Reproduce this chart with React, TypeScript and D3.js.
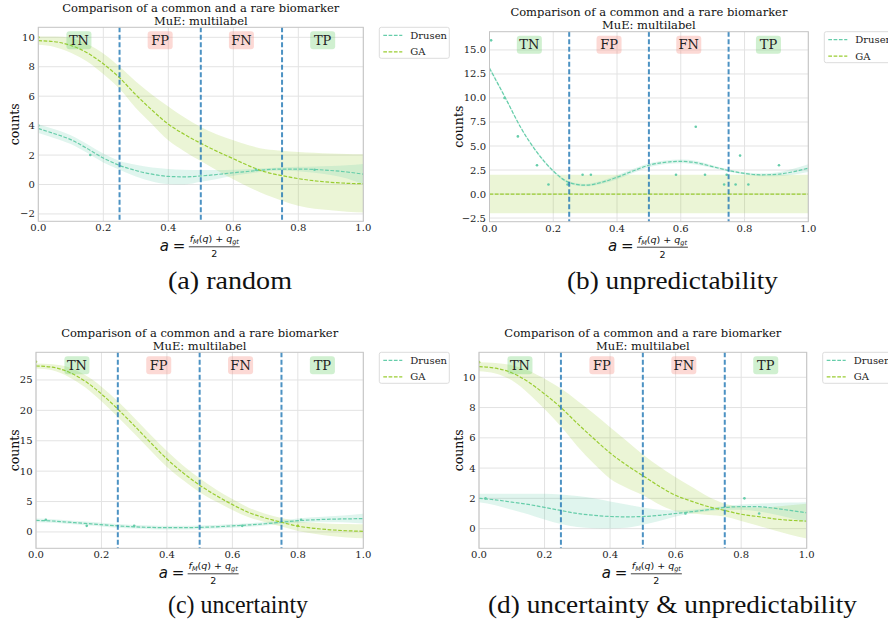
import React from 'react';
import * as d3 from 'd3';

// ---------- shared categories ----------
const X_GRID = [0, 0.05, 0.1, 0.15, 0.2, 0.25, 0.3, 0.35, 0.4, 0.45, 0.5, 0.55, 0.6, 0.65, 0.7, 0.75, 0.8, 0.85, 0.9, 0.95, 1.0];
const X_TICKS = [0, 0.2, 0.4, 0.6, 0.8, 1.0];
const THRESHOLDS = [0.25, 0.5, 0.75];
const PHASE_LABELS = ['TN', 'FP', 'FN', 'TP'];
const PHASE_CENTERS = [0.125, 0.375, 0.625, 0.875];
const PHASE_OK = [true, false, false, true];
const SERIES_NAMES = ['Drusen', 'GA'];
const TITLE_1 = 'Comparison of a common and a rare biomarker';
const TITLE_2 = 'MuE: multilabel';
const Y_LABEL = 'counts';
const CAPTIONS = ['(a) random', '(b) unpredictability', '(c) uncertainty', '(d) uncertainty & unpredictability'];

// ---------- (a) random ----------
const A_Y_TICKS = [-2, 0, 2, 4, 6, 8, 10];
const A_GA_MEAN = [9.77, 9.7, 9.45, 8.95, 8.2, 7.25, 6.1, 5.05, 4.1, 3.4, 2.8, 2.25, 1.75, 1.25, 0.85, 0.6, 0.4, 0.25, 0.15, 0.08, 0.05];
const A_GA_UP = [10.05, 10.05, 9.95, 9.55, 8.9, 8.0, 7.0, 6.1, 5.3, 4.55, 3.9, 3.4, 3.0, 2.65, 2.4, 2.3, 2.2, 2.15, 2.1, 2.07, 2.05];
const A_GA_LO = [9.5, 9.35, 8.95, 8.35, 7.5, 6.5, 5.2, 4.1, 3.0, 2.25, 1.6, 0.95, 0.35, -0.2, -0.7, -1.1, -1.45, -1.65, -1.75, -1.85, -1.9];
const A_DR_MEAN = [3.8, 3.45, 3.05, 2.45, 1.8, 1.3, 0.95, 0.7, 0.55, 0.52, 0.58, 0.68, 0.8, 0.9, 1.0, 1.05, 1.05, 1.02, 0.95, 0.85, 0.7];
const A_DR_UP = [4.1, 3.75, 3.35, 2.75, 2.1, 1.6, 1.35, 1.15, 1.05, 1.0, 0.98, 0.98, 1.0, 1.05, 1.1, 1.15, 1.2, 1.22, 1.25, 1.3, 1.4];
const A_DR_LO = [3.5, 3.15, 2.75, 2.15, 1.5, 1.0, 0.55, 0.2, 0.02, 0.0, 0.18, 0.38, 0.6, 0.75, 0.9, 0.95, 0.9, 0.8, 0.65, 0.4, 0.0];
const A_DR_PX = [0.0, 0.16, 0.67, 0.85];
const A_DR_PY = [4, 2, 1, 1];
const A_GA_PX = [0.0];
const A_GA_PY = [10];

// ---------- (b) unpredictability ----------
const B_Y_TICKS = [-2.5, 0, 2.5, 5, 7.5, 10, 12.5, 15];
const B_GA_MEAN = [0, 0, 0, 0, 0, 0, 0, 0, 0, 0, 0, 0, 0, 0, 0, 0, 0, 0, 0, 0, 0];
const B_GA_UP = [2, 2, 2, 2, 2, 2, 2, 2, 2, 2, 2, 2, 2, 2, 2, 2, 2, 2, 2, 2, 2];
const B_GA_LO = [-2, -2, -2, -2, -2, -2, -2, -2, -2, -2, -2, -2, -2, -2, -2, -2, -2, -2, -2, -2, -2];
const B_DR_MEAN = [13.1, 10.0, 6.8, 4.3, 2.4, 1.2, 0.92, 1.2, 1.75, 2.4, 3.0, 3.3, 3.4, 3.25, 2.85, 2.45, 2.15, 2.0, 2.05, 2.3, 2.7];
const B_DR_UP = [13.3, 10.15, 6.92, 4.42, 2.52, 1.32, 1.04, 1.35, 1.95, 2.6, 3.2, 3.5, 3.6, 3.45, 3.0, 2.57, 2.27, 2.15, 2.25, 2.6, 3.1];
const B_DR_LO = [12.9, 9.85, 6.68, 4.18, 2.28, 1.08, 0.8, 1.05, 1.55, 2.2, 2.8, 3.1, 3.2, 3.05, 2.7, 2.33, 2.03, 1.85, 1.85, 2.0, 2.3];
const B_DR_PX = [0.005, 0.047, 0.089, 0.149, 0.185, 0.245, 0.292, 0.318, 0.585, 0.647, 0.676, 0.736, 0.744, 0.772, 0.786, 0.812, 0.908];
const B_DR_PY = [16, 10, 6, 3, 1, 1, 2, 2, 2, 7, 2, 1, 2, 1, 4, 1, 3];
const B_GA_PX: number[] = [];
const B_GA_PY: number[] = [];

// ---------- (c) uncertainty ----------
const C_Y_TICKS = [0, 5, 10, 15, 20, 25];
const C_GA_MEAN = [27.3, 27.1, 26.3, 24.8, 22.7, 20.2, 17.5, 14.7, 12.0, 9.7, 7.7, 6.0, 4.5, 3.2, 2.3, 1.6, 0.95, 0.6, 0.35, 0.2, 0.1];
const C_GA_UP = [27.7, 27.6, 27.1, 25.8, 23.9, 21.5, 18.8, 16.0, 13.3, 10.9, 8.85, 7.0, 5.4, 4.0, 3.0, 2.3, 1.75, 1.5, 1.35, 1.3, 1.25];
const C_GA_LO = [26.9, 26.6, 25.5, 23.8, 21.5, 18.9, 16.2, 13.4, 10.7, 8.5, 6.55, 5.0, 3.6, 2.4, 1.6, 0.9, 0.15, -0.3, -0.65, -0.9, -1.05];
const C_DR_MEAN = [1.9, 1.8, 1.6, 1.4, 1.2, 1.0, 0.85, 0.75, 0.7, 0.7, 0.75, 0.85, 1.0, 1.15, 1.35, 1.6, 1.85, 2.0, 2.1, 2.15, 2.2];
const C_DR_UP = [2.2, 2.1, 1.9, 1.7, 1.5, 1.3, 1.15, 1.05, 1.0, 1.0, 1.05, 1.15, 1.3, 1.45, 1.65, 1.9, 2.2, 2.4, 2.6, 2.75, 3.0];
const C_DR_LO = [1.6, 1.5, 1.3, 1.1, 0.9, 0.7, 0.55, 0.45, 0.4, 0.4, 0.45, 0.55, 0.7, 0.85, 1.05, 1.3, 1.5, 1.6, 1.6, 1.55, 1.4];
const C_DR_PX = [0.03, 0.155, 0.3, 0.63, 0.81];
const C_DR_PY = [2, 1, 1, 1, 2];
const C_GA_PX = [0.0, 0.8];
const C_GA_PY = [28, 1];

// ---------- (d) uncertainty & unpredictability ----------
const D_Y_TICKS = [0, 2, 4, 6, 8, 10];
const D_GA_MEAN = [10.7, 10.6, 10.3, 9.7, 8.9, 8.0, 6.95, 5.95, 5.0, 4.2, 3.5, 2.8, 2.2, 1.8, 1.45, 1.2, 0.95, 0.8, 0.65, 0.55, 0.5];
const D_GA_UP = [11.0, 10.95, 10.8, 10.45, 9.9, 9.25, 8.45, 7.6, 6.7, 5.8, 4.9, 4.1, 3.4, 2.75, 2.1, 1.65, 1.45, 1.4, 1.45, 1.55, 1.65];
const D_GA_LO = [10.4, 10.25, 9.8, 8.95, 7.9, 6.75, 5.45, 4.3, 3.3, 2.7, 2.2, 1.6, 1.15, 1.0, 0.9, 0.8, 0.5, 0.2, -0.1, -0.4, -0.65];
const D_DR_MEAN = [2.0, 1.9, 1.75, 1.6, 1.4, 1.2, 1.0, 0.88, 0.8, 0.78, 0.8, 0.88, 1.0, 1.12, 1.25, 1.4, 1.45, 1.45, 1.35, 1.2, 1.05];
const D_DR_UP = [2.3, 2.3, 2.3, 2.3, 2.3, 2.25, 2.15, 2.0, 1.8, 1.6, 1.4, 1.25, 1.2, 1.25, 1.35, 1.5, 1.6, 1.65, 1.7, 1.72, 1.75];
const D_DR_LO = [1.75, 1.55, 1.25, 0.95, 0.6, 0.3, 0.1, 0.02, 0.0, 0.05, 0.25, 0.5, 0.8, 1.0, 1.15, 1.25, 1.25, 1.15, 0.95, 0.7, 0.4];
const D_DR_PX = [0.02, 0.63, 0.81, 0.855];
const D_DR_PY = [2, 1, 2, 1];
const D_GA_PX = [0.0];
const D_GA_PY = [11];

// ---------- styling ----------
const DR_COLOR = '#66cdaa';
const GA_COLOR = '#9acd32';
const THR_COLOR = '#1f77b4';
const SERIF = '"DejaVu Serif", serif';
const SANS = '"DejaVu Sans", sans-serif';

const fmtMinus = (s: string) => s.replace('-', '\u2212');

type Box = { l: number; t: number; r: number; b: number };

function Panel(props: {
  id: string;
  box: Box;
  yDomain: [number, number];
  yTicks: number[];
  yFmt: string;
  yLabelOff: number;
  dr: [number[], number[], number[]];
  ga: [number[], number[], number[]];
  drPts: [number[], number[]];
  gaPts: [number[], number[]];
}) {
  const { id, box, yDomain, yTicks, yFmt, yLabelOff, dr, ga, drPts, gaPts } = props;
  const x = d3.scaleLinear().domain([0, 1]).range([box.l, box.r]);
  const y = d3.scaleLinear().domain(yDomain).range([box.b, box.t]);
  const fy = d3.format(yFmt);
  const fx = d3.format('.1f');

  const band = (lo: number[], up: number[]) =>
    d3
      .area<number>()
      .x((_, i) => x(X_GRID[i]))
      .y0((_, i) => y(lo[i]))
      .y1((_, i) => y(up[i]))
      .curve(d3.curveMonotoneX)(X_GRID) || '';
  const line = (m: number[]) =>
    d3
      .line<number>()
      .x((_, i) => x(X_GRID[i]))
      .y((_, i) => y(m[i]))
      .curve(d3.curveMonotoneX)(X_GRID) || '';

  const cx = (box.l + box.r) / 2;
  const cy = (box.t + box.b) / 2;
  const clipId = 'clip-' + id;
  const legX = box.r + 16;
  const legY = box.t;

  return (
    <g>
      <defs>
        <clipPath id={clipId}>
          <rect x={box.l} y={box.t} width={box.r - box.l} height={box.b - box.t} />
        </clipPath>
      </defs>
      {X_TICKS.map((t) => (
        <line key={'gx' + t} x1={x(t)} x2={x(t)} y1={box.t} y2={box.b} stroke="#e3e3e3" strokeWidth={1} />
      ))}
      {yTicks.map((t) => (
        <line key={'gy' + t} x1={box.l} x2={box.r} y1={y(t)} y2={y(t)} stroke="#e3e3e3" strokeWidth={1} />
      ))}
      <g clipPath={`url(#${clipId})`}>
        <path d={band(ga[2], ga[1])} fill={GA_COLOR} fillOpacity={0.2} />
        <path d={band(dr[2], dr[1])} fill={DR_COLOR} fillOpacity={0.2} />
        <path d={line(dr[0])} fill="none" stroke={DR_COLOR} strokeWidth={1.2} strokeDasharray="3.7,1.6" />
        <path d={line(ga[0])} fill="none" stroke={GA_COLOR} strokeWidth={1.2} strokeDasharray="3.7,1.6" />
        {drPts[0].map((px, i) => (
          <circle key={'dp' + i} cx={x(px)} cy={y(drPts[1][i])} r={1.3} fill={DR_COLOR} />
        ))}
        {gaPts[0].map((px, i) => (
          <circle key={'gp' + i} cx={x(px)} cy={y(gaPts[1][i])} r={1.3} fill={GA_COLOR} />
        ))}
      </g>
      {THRESHOLDS.map((t) => (
        <line key={'th' + t} x1={x(t)} x2={x(t)} y1={box.t} y2={box.b} stroke={THR_COLOR} strokeOpacity={0.8} strokeWidth={2} strokeDasharray="5,2.5" />
      ))}
      {PHASE_LABELS.map((lab, i) => (
        <g key={lab}>
          <rect
            x={x(PHASE_CENTERS[i]) - 12.5}
            y={box.t + 4}
            width={25}
            height={18}
            rx={3}
            fill={PHASE_OK[i] ? 'rgb(100,205,100)' : 'rgb(245,130,115)'}
            fillOpacity={0.3}
          />
          <text x={x(PHASE_CENTERS[i])} y={box.t + 17.5} textAnchor="middle" fontFamily={SERIF} fontSize={13} fill="#222">
            {lab}
          </text>
        </g>
      ))}
      <rect x={box.l} y={box.t} width={box.r - box.l} height={box.b - box.t} fill="none" stroke="#c4c4c4" strokeWidth={1} />
      {X_TICKS.map((t) => (
        <text key={'tx' + t} x={x(t)} y={box.b + 10} textAnchor="middle" fontFamily={SERIF} fontSize={10} fill="#222">
          {fx(t)}
        </text>
      ))}
      {yTicks.map((t) => (
        <text key={'ty' + t} x={box.l - 3.5} y={y(t) + 3.5} textAnchor="end" fontFamily={SERIF} fontSize={10} fill="#222">
          {fmtMinus(fy(t))}
        </text>
      ))}
      <text transform={`translate(${box.l - yLabelOff},${cy}) rotate(-90)`} textAnchor="middle" fontFamily={SERIF} fontSize={12.5} fill="#111">
        {Y_LABEL}
      </text>
      <text x={cx} y={box.t - 15.5} textAnchor="middle" fontFamily={SERIF} fontSize={11.5} fill="#111">
        {TITLE_1}
      </text>
      <text x={cx} y={box.t - 2.5} textAnchor="middle" fontFamily={SERIF} fontSize={11.5} fill="#111">
        {TITLE_2}
      </text>
      <g fontFamily={SANS} fill="#111">
        <text x={cx - 41} y={box.b + 29.5} fontSize={15} fontStyle="italic">a</text>
        <text x={cx - 28} y={box.b + 29.5} fontSize={15}>=</text>
        <line x1={cx - 12} x2={cx + 39} y1={box.b + 25.5} y2={box.b + 25.5} stroke="#111" strokeWidth={0.8} />
        <text x={cx + 13.5} y={box.b + 21} fontSize={9.5} textAnchor="middle">
          <tspan fontStyle="italic">f</tspan>
          <tspan fontSize={6.5} fontStyle="italic" dy={2}>M</tspan>
          <tspan dy={-2}>(</tspan>
          <tspan fontStyle="italic">q</tspan>
          <tspan>) + </tspan>
          <tspan fontStyle="italic">q</tspan>
          <tspan fontSize={6.5} fontStyle="italic" dy={2}>gt</tspan>
        </text>
        <text x={cx + 13.5} y={box.b + 36} fontSize={9.5} textAnchor="middle">2</text>
      </g>
      <rect x={legX} y={legY} width={70} height={31} rx={2} fill="#fff" fillOpacity={0.8} stroke="#dcdcdc" strokeWidth={1} />
      {SERIES_NAMES.map((nm, i) => (
        <g key={nm}>
          <line
            x1={legX + 4}
            x2={legX + 23}
            y1={legY + 8 + i * 16.5}
            y2={legY + 8 + i * 16.5}
            stroke={i === 0 ? DR_COLOR : GA_COLOR}
            strokeWidth={1.2}
            strokeDasharray="3.7,1.6"
          />
          <text x={legX + 31} y={legY + 11.5 + i * 16.5} fontFamily={SERIF} fontSize={10} fill="#222">
            {nm}
          </text>
        </g>
      ))}
    </g>
  );
}

export default function App() {
  return (
    <svg width={888} height={625} style={{ position: 'absolute', left: 0, top: 0, background: '#fff' }}>
      <rect x={0} y={0} width={888} height={625} fill="#fff" />
      <Panel
        id="a"
        box={{ l: 38.3, t: 27.3, r: 363.3, b: 221.3 }}
        yDomain={[-2.5, 10.68]}
        yTicks={A_Y_TICKS}
        yFmt="d"
        yLabelOff={19}
        dr={[A_DR_MEAN, A_DR_UP, A_DR_LO]}
        ga={[A_GA_MEAN, A_GA_UP, A_GA_LO]}
        drPts={[A_DR_PX, A_DR_PY]}
        gaPts={[A_GA_PX, A_GA_PY]}
      />
      <Panel
        id="b"
        box={{ l: 489.5, t: 31.7, r: 808.3, b: 221.7 }}
        yDomain={[-2.88, 16.9]}
        yTicks={B_Y_TICKS}
        yFmt=".1f"
        yLabelOff={26.5}
        dr={[B_DR_MEAN, B_DR_UP, B_DR_LO]}
        ga={[B_GA_MEAN, B_GA_UP, B_GA_LO]}
        drPts={[B_DR_PX, B_DR_PY]}
        gaPts={[B_GA_PX, B_GA_PY]}
      />
      <Panel
        id="c"
        box={{ l: 36, t: 352.3, r: 363.3, b: 548.3 }}
        yDomain={[-2.69, 29.55]}
        yTicks={C_Y_TICKS}
        yFmt="d"
        yLabelOff={17}
        dr={[C_DR_MEAN, C_DR_UP, C_DR_LO]}
        ga={[C_GA_MEAN, C_GA_UP, C_GA_LO]}
        drPts={[C_DR_PX, C_DR_PY]}
        gaPts={[C_GA_PX, C_GA_PY]}
      />
      <Panel
        id="d"
        box={{ l: 479, t: 352.3, r: 806.7, b: 548.3 }}
        yDomain={[-1.3, 11.65]}
        yTicks={D_Y_TICKS}
        yFmt="d"
        yLabelOff={16}
        dr={[D_DR_MEAN, D_DR_UP, D_DR_LO]}
        ga={[D_GA_MEAN, D_GA_UP, D_GA_LO]}
        drPts={[D_DR_PX, D_DR_PY]}
        gaPts={[D_GA_PX, D_GA_PY]}
      />
      <g fontFamily={'"Liberation Serif", serif'} fontSize={25} fill="#111" textAnchor="middle">
        <text x={230} y={289} textLength={124} lengthAdjust="spacingAndGlyphs">{CAPTIONS[0]}</text>
        <text x={672.5} y={289} textLength={211} lengthAdjust="spacingAndGlyphs">{CAPTIONS[1]}</text>
        <text x={238} y={613} textLength={140} lengthAdjust="spacingAndGlyphs">{CAPTIONS[2]}</text>
        <text x={672.5} y={613} textLength={369} lengthAdjust="spacingAndGlyphs">{CAPTIONS[3]}</text>
      </g>
    </svg>
  );
}
